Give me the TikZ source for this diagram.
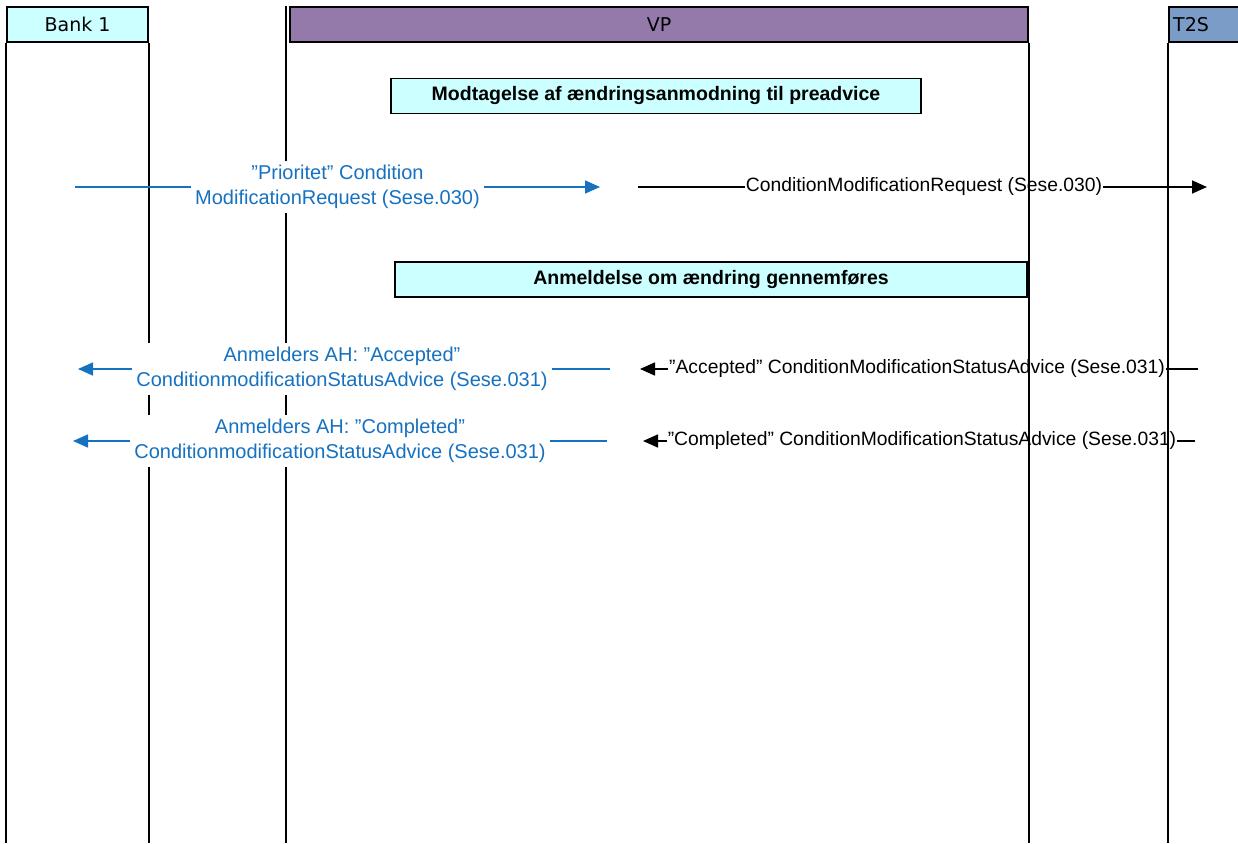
\documentclass[tikz,border=0pt]{standalone}
\usepackage{fontspec}
\setmainfont{Liberation Sans}
\newfontfamily\lanefont{DejaVu Sans}
\usetikzlibrary{arrows.meta}

\definecolor{lanecyan}{RGB}{204,255,255}
\definecolor{vppurple}{RGB}{148,122,170}
\definecolor{tsblue}{RGB}{124,156,200}
\definecolor{msgblue}{RGB}{22,114,192}

\tikzset{
  lanehead/.style={draw=black, line width=1.8pt, minimum height=35pt, inner sep=0pt,
    font=\lanefont\fontsize{19}{23}\selectfont},
  lifeline/.style={line width=1.6pt},
  phasebox/.style={draw=black, line width=1.8pt, fill=lanecyan, inner sep=0pt,
    minimum height=35pt, font=\bfseries\fontsize{19.5}{24}\selectfont},
  msgline/.style={line width=1.6pt},
  msg/.style={msgline, -{Triangle[length=15pt,width=13pt]}},
  msgtext/.style={inner sep=1pt, align=center, font=\fontsize{19.3}{25.5}\selectfont},
  bluetext/.style={msgtext, text=msgblue, fill=white, inner sep=4pt,
    font=\fontsize{20}{25.5}\selectfont},
}

\begin{document}
\begin{tikzpicture}[x=1pt,y=-1pt]
\clip (0,0) rectangle (1238,843);
\useasboundingbox (0,0) rectangle (1238,843);
\coordinate (bottom) at (0,843);
% Lane heads
\node[lanehead, fill=lanecyan, minimum width=141pt] (bank) at (77.5,24.5) {Bank 1};
\node[lanehead, fill=vppurple, minimum width=738pt] (vp) at (659,24.5) {VP};
\node[lanehead, fill=tsblue, minimum width=80pt] (t2s) at (1209,24.5) {};
\node[font=\lanefont\fontsize{19}{23}\selectfont] at (1191,24.5) {T2S};
% Lifelines
\draw[lifeline] (bank.south west) -- (bank.south west |- bottom);
\draw[lifeline] (bank.south east) -- (bank.south east |- bottom);
\draw[lifeline] ([xshift=-3pt]vp.north west) -- ([xshift=-3pt]vp.north west |- bottom);
\draw[lifeline] (vp.south east) -- (vp.south east |- bottom);
\draw[lifeline] (t2s.south west) -- (t2s.south west |- bottom);
% Phases
\node[phasebox, minimum width=530pt] (recv) at (656,96) {Modtagelse af ændringsanmodning til preadvice};
\node[phasebox, minimum width=632pt] (exec) at (711,279.5) {Anmeldelse om ændring gennemføres};
% Request: Bank 1 -> VP -> T2S
\coordinate (reqA) at (75,187);
\coordinate (reqB) at (600,187);
\node[bluetext] (reqlbl) at (337.5,187) {”Prioritet” Condition\\ModificationRequest (Sese.030)};
\draw[msgline, msgblue] (reqA) -- (reqlbl);
\draw[msg, msgblue] (reqlbl) -- (reqB);
\coordinate (fwdA) at (638,187);
\coordinate (fwdB) at (1207,187);
\node[msgtext] (fwdlbl) at (924,187) {ConditionModificationRequest (Sese.030)};
\draw[msgline] (fwdA) -- (fwdlbl);
\draw[msg] (fwdlbl) -- (fwdB);
% Accepted: T2S -> VP -> Bank 1
\coordinate (accA) at (1198,369);
\coordinate (accB) at (640,369);
\node[msgtext] (acclbl) at (917,369) {”Accepted” ConditionModificationStatusAdvice (Sese.031)};
\draw[msgline] (accA) -- (acclbl);
\draw[msg] (acclbl) -- (accB);
\coordinate (ackA) at (610,369);
\coordinate (ackB) at (78,369);
\node[bluetext] (acklbl) at (342,369) {Anmelders AH: ”Accepted”\\ConditionmodificationStatusAdvice (Sese.031)};
\draw[msgline, msgblue] (ackA) -- (acklbl);
\draw[msg, msgblue] (acklbl) -- (ackB);
% Completed: T2S -> VP -> Bank 1
\coordinate (cplA) at (1195,441);
\coordinate (cplB) at (643,441);
\node[msgtext] (cpllbl) at (922,441) {”Completed” ConditionModificationStatusAdvice (Sese.031)};
\draw[msgline] (cplA) -- (cpllbl);
\draw[msg] (cpllbl) -- (cplB);
\coordinate (doneA) at (607,441);
\coordinate (doneB) at (73,441);
\node[bluetext] (donelbl) at (340,441) {Anmelders AH: ”Completed”\\ConditionmodificationStatusAdvice (Sese.031)};
\draw[msgline, msgblue] (doneA) -- (donelbl);
\draw[msg, msgblue] (donelbl) -- (doneB);
\end{tikzpicture}
\end{document}
